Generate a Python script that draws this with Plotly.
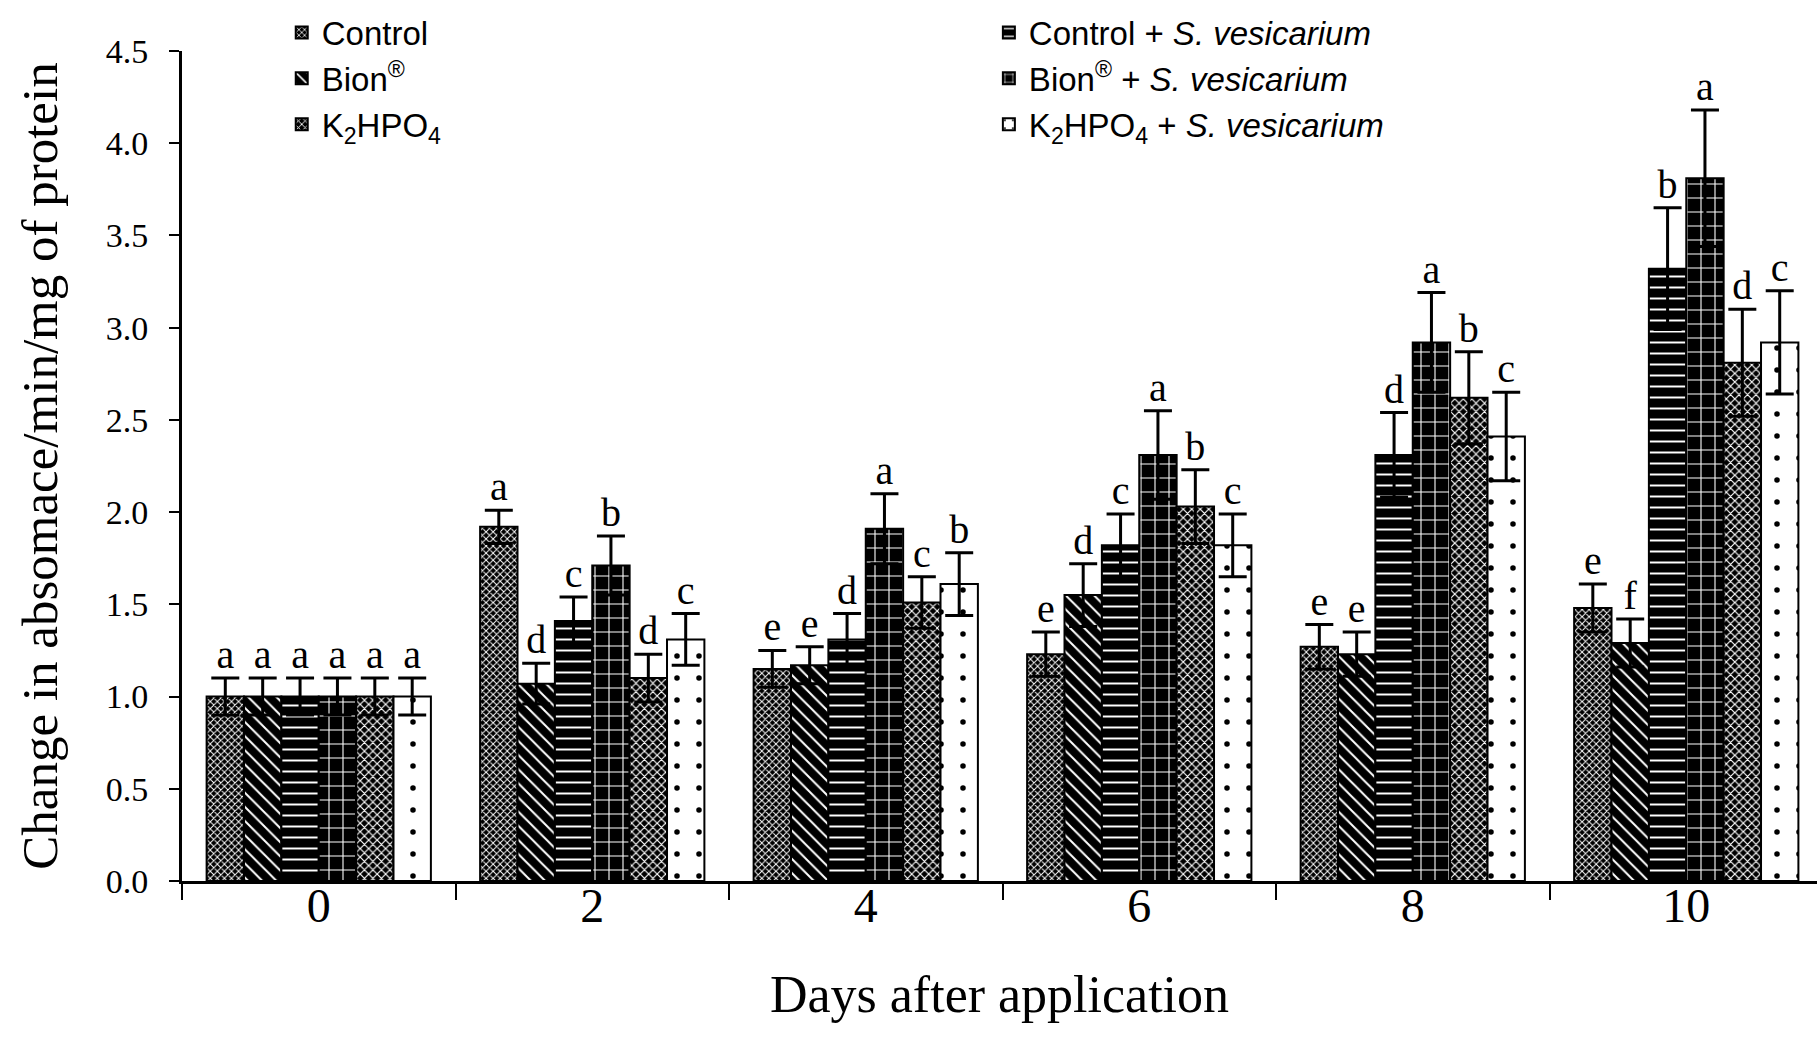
import plotly.graph_objects as go

days = ["0", "2", "4", "6", "8", "10"]

series_names = [
    "Control",
    "Bion<sup>®</sup>",
    "Control + <i>S. vesicarium</i>",
    "Bion<sup>®</sup> + <i>S. vesicarium</i>",
    "K<sub>2</sub>HPO<sub>4</sub>",
    "K<sub>2</sub>HPO<sub>4</sub> + <i>S. vesicarium</i>",
]

control = [1.00, 1.92, 1.15, 1.23, 1.27, 1.48]
bion = [1.00, 1.07, 1.17, 1.55, 1.23, 1.29]
control_sv = [1.00, 1.41, 1.31, 1.82, 2.31, 3.32]
bion_sv = [1.00, 1.71, 1.91, 2.31, 2.92, 3.81]
k2hpo4 = [1.00, 1.10, 1.51, 2.03, 2.62, 2.81]
k2hpo4_sv = [1.00, 1.31, 1.61, 1.82, 2.41, 2.92]

control_err = [0.10, 0.09, 0.10, 0.12, 0.12, 0.13]
bion_err = [0.10, 0.11, 0.10, 0.17, 0.12, 0.13]
control_sv_err = [0.10, 0.13, 0.14, 0.17, 0.23, 0.33]
bion_sv_err = [0.10, 0.16, 0.19, 0.24, 0.27, 0.37]
k2hpo4_err = [0.10, 0.13, 0.14, 0.20, 0.25, 0.29]
k2hpo4_sv_err = [0.10, 0.14, 0.17, 0.17, 0.24, 0.28]

control_letters = ["a", "a", "e", "e", "e", "e"]
bion_letters = ["a", "d", "e", "d", "e", "f"]
control_sv_letters = ["a", "c", "d", "c", "d", "b"]
bion_sv_letters = ["a", "b", "a", "a", "a", "a"]
k2hpo4_letters = ["a", "d", "c", "b", "b", "d"]
k2hpo4_sv_letters = ["a", "c", "b", "c", "c", "c"]

values = [control, bion, control_sv, bion_sv, k2hpo4, k2hpo4_sv]
errors = [control_err, bion_err, control_sv_err, bion_sv_err, k2hpo4_err, k2hpo4_sv_err]
letters = [control_letters, bion_letters, control_sv_letters, bion_sv_letters,
           k2hpo4_letters, k2hpo4_sv_letters]

patterns = [
    dict(shape="x", bgcolor="black", fgcolor="white", size=5, solidity=0.35),
    dict(shape="\\", bgcolor="black", fgcolor="white", size=10, solidity=0.2),
    dict(shape="-", bgcolor="black", fgcolor="white", size=11, solidity=0.18),
    dict(shape="+", bgcolor="black", fgcolor="white", size=14, solidity=0.15),
    dict(shape="x", bgcolor="black", fgcolor="white", size=6, solidity=0.35),
    dict(shape=".", bgcolor="white", fgcolor="black", size=22, solidity=0.05),
]
legend_ids = ["legend", "legend", "legend2", "legend2", "legend", "legend2"]
legend_ranks = [1, 2, 1, 2, 3, 3]

fig = go.Figure()
for i in range(6):
    fig.add_trace(go.Bar(
        x=days, y=values[i], name=series_names[i],
        offsetgroup=str(i),
        marker=dict(color="white", line=dict(color="black", width=2),
                    pattern=dict(fillmode="replace", **patterns[i])),
        error_y=dict(type="data", array=errors[i], symmetric=True,
                     color="black", thickness=3, width=14),
        legend=legend_ids[i], legendrank=legend_ranks[i],
    ))

for i in range(6):
    tops = [v + e for v, e in zip(values[i], errors[i])]
    fig.add_trace(go.Scatter(
        x=days, y=tops, mode="text", text=letters[i],
        textposition="top center",
        textfont=dict(family="Liberation Serif", size=40, color="black"),
        offsetgroup=str(i), alignmentgroup="letters",
        showlegend=False, hoverinfo="skip", cliponaxis=False,
    ))

legend_font = dict(family="Liberation Sans", size=33, color="black")
fig.update_layout(
    width=1817, height=1040,
    margin=dict(l=182, r=0, t=51, b=159),
    plot_bgcolor="white", paper_bgcolor="white",
    barmode="group", bargap=0.18, bargroupgap=0,
    scattermode="group", scattergap=0.18,
    font=dict(family="Liberation Serif", color="black"),
    showlegend=True,
    legend=dict(x=0.061, y=1.056, xanchor="left", yanchor="top",
                orientation="v", bgcolor="rgba(0,0,0,0)", font=legend_font,
                itemwidth=30, tracegroupgap=0, traceorder="normal"),
    legend2=dict(x=0.4935, y=1.056, xanchor="left", yanchor="top",
                 orientation="v", bgcolor="rgba(0,0,0,0)", font=legend_font,
                 itemwidth=30, tracegroupgap=0, traceorder="normal"),
)

fig.update_xaxes(
    type="category", range=[-0.5, 5.478],
    showline=True, linecolor="black", linewidth=3,
    ticks="outside", tickson="boundaries", ticklen=16, tickwidth=2, tickcolor="black",
    ticklabelstandoff=-20,
    tickfont=dict(family="Liberation Serif", size=48, color="black"),
    showgrid=False, zeroline=False,
    title=dict(text="Days after application",
               font=dict(family="Liberation Serif", size=52, color="black"),
               standoff=46),
)
fig.update_yaxes(
    range=[0, 4.5], dtick=0.5, tickformat=".1f",
    showline=True, linecolor="black", linewidth=3,
    ticks="outside", ticklen=10, tickwidth=2, tickcolor="black",
    ticklabelstandoff=14,
    tickfont=dict(family="Liberation Serif", size=34, color="black"),
    showgrid=False, zeroline=False,
    title=dict(text="Change in absomace/min/mg of protein",
               font=dict(family="Liberation Serif", size=51, color="black"),
               standoff=32),
)

fig.write_html("out.html")
